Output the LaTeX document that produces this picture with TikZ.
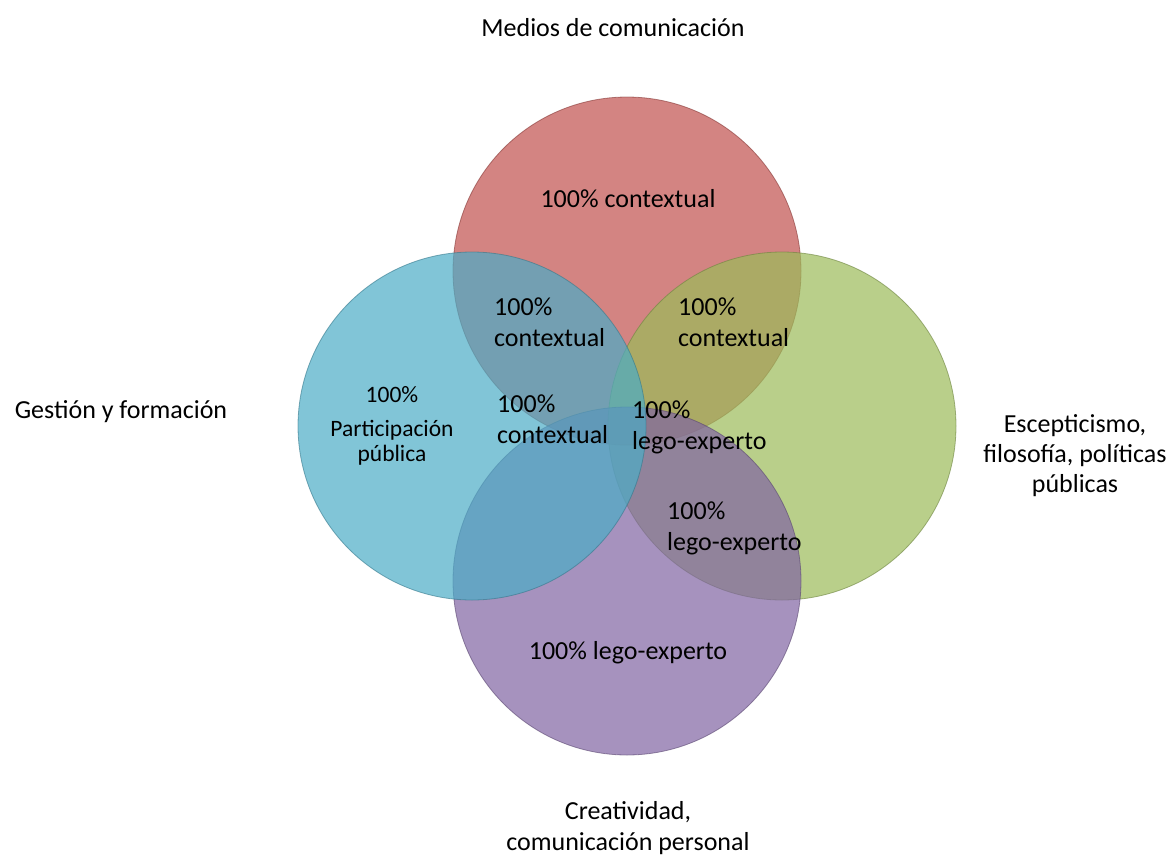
\documentclass[tikz,border=0pt]{standalone}
\usepackage{fontspec}
\setmainfont{Carlito}
\usepackage{tikz}
\usetikzlibrary{calc}

\definecolor{venn_red}{RGB}{192,80,77}
\definecolor{venn_green}{RGB}{155,187,89}
\definecolor{venn_purple}{RGB}{128,100,162}
\definecolor{venn_blue}{RGB}{75,172,198}

\begin{document}
\begin{tikzpicture}[x=1pt,y=-1pt,
  venn/.style={circle, inner sep=0pt, minimum size=348pt, fill=#1, fill opacity=0.7,
    draw=#1!70!black, draw opacity=0.6, line width=0.8pt},
  lbl/.style={inner sep=0pt, font=\fontsize{26}{31}\selectfont},
  inlbl/.style={lbl, anchor=west, align=left}]
\useasboundingbox (0,0) rectangle (1173,855);

\coordinate (c) at (627,426);
\coordinate (c_top) at ($(c)+(0,-155)$);
\coordinate (c_right) at ($(c)+(155,0)$);
\coordinate (c_bottom) at ($(c)+(0,155)$);
\coordinate (c_left) at ($(c)+(-155,0)$);

\node [venn=venn_red] (top) at (c_top) {};
\node [venn=venn_green] (right) at (c_right) {};
\node [venn=venn_purple] (bottom) at (c_bottom) {};
\node [venn=venn_blue] (left) at (c_left) {};

% outer labels
\node [lbl] (medios) at (613,28) {Medios de comunicación};
\node [lbl] (gestion) at (121,412) {Gestión y formación};
\node [lbl, align=center, font=\fontsize{26}{30}\selectfont] (escep) at (1075,456) {Escepticismo,\\filosofía, políticas\\públicas};
\node [lbl, align=center] (creat) at (628,828) {Creatividad,\\comunicación personal};

% inner labels
\node [lbl] (t_top) at (628,199) {100\% contextual};
\node [lbl] (t_bottom) at (628,653) {100\% lego-experto};
\node [lbl, align=center, font=\fontsize{23.5}{25}\selectfont] (t_left) at (392,426) {100\%\\[9pt]Participación\\pública};
\node [inlbl] (t_tl) at (494,322) {100\%\\contextual};
\node [inlbl] (t_tr) at (678,322) {100\%\\contextual};
\node [inlbl] (t_ml) at (497,419) {100\%\\contextual};
\node [inlbl] (t_mid) at (632,427) {100\%\\lego-experto};
\node [inlbl] (t_br) at (667,528) {100\%\\lego-experto};
\end{tikzpicture}
\end{document}
